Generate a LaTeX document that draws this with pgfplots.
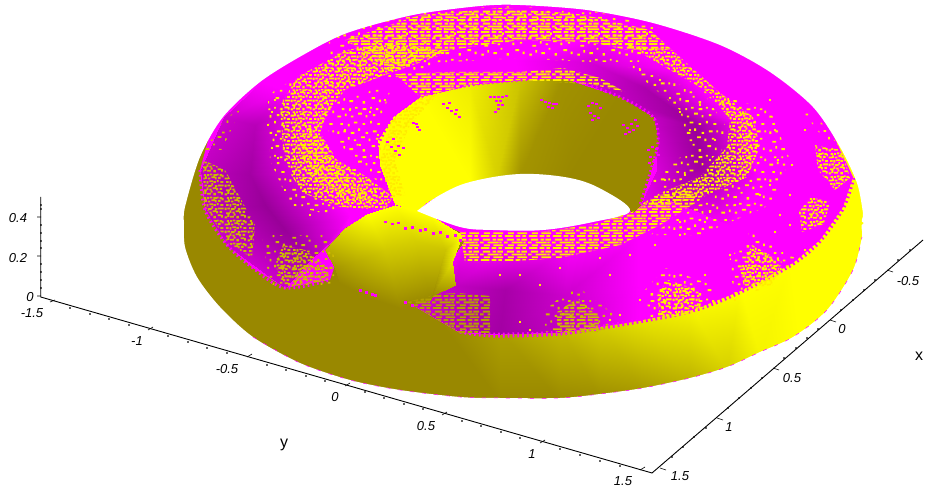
\documentclass[border=0pt]{standalone}
\usepackage{fontspec}
\setmainfont{Liberation Sans}
\usepackage{pgfplots}
\pgfplotsset{compat=1.18}
\usetikzlibrary{patterns}
\definecolor{olv}{RGB}{153,136,0}
\definecolor{ylw}{RGB}{255,235,0}
\definecolor{ylw2}{RGB}{205,185,0}
\definecolor{ylw3}{RGB}{180,160,0}
\definecolor{mag}{RGB}{255,0,255}
\def\rr#1#2#3#4#5{\pgfpathrectangle{\pgfpoint{#1*#2*1pt}{#1*#3*1pt}}{\pgfpoint{#4*1.25pt}{#5*1.25pt}}}
\def\speckrows#1{%
\rr{#1}{1}{1}{2}{1.5}\rr{#1}{5}{3}{1.5}{2}\rr{#1}{9}{2}{3}{1.5}\rr{#1}{14}{5}{1.5}{1.5}\rr{#1}{18}{1}{2}{2}\rr{#1}{24}{4}{3}{1.5}\rr{#1}{29}{2}{1.5}{2}%
\rr{#1}{3}{7}{3}{1.5}\rr{#1}{8}{9}{1.5}{2}\rr{#1}{12}{8}{2}{1.5}\rr{#1}{17}{10}{3}{1.5}\rr{#1}{22}{8}{1.5}{2}\rr{#1}{27}{9}{2}{1.5}%
\rr{#1}{1}{13}{1.5}{2}\rr{#1}{5}{14}{2}{1.5}\rr{#1}{10}{13}{3}{1.5}\rr{#1}{15}{15}{1.5}{2}\rr{#1}{20}{13}{2}{1.5}\rr{#1}{25}{14}{3}{1.5}\rr{#1}{30}{14}{1.5}{1.5}%
\rr{#1}{3}{19}{2}{1.5}\rr{#1}{8}{18}{1.5}{2}\rr{#1}{12}{20}{3}{1.5}\rr{#1}{18}{19}{2}{1.5}\rr{#1}{23}{20}{1.5}{2}\rr{#1}{28}{19}{2.5}{1.5}%
\rr{#1}{1}{24}{3}{1.5}\rr{#1}{6}{25}{1.5}{2}\rr{#1}{10}{24}{2}{1.5}\rr{#1}{15}{26}{3}{1.5}\rr{#1}{20}{24}{1.5}{2}\rr{#1}{25}{25}{2}{1.5}\rr{#1}{30}{27}{1.5}{2}%
\rr{#1}{4}{29}{2}{1.5}\rr{#1}{9}{29}{1.5}{1.5}\rr{#1}{13}{30}{2}{1.5}\rr{#1}{18}{29}{3}{1.5}\rr{#1}{23}{30}{1.5}{1.5}\rr{#1}{27}{29}{2}{1.5}%
\pgfusepath{fill}}
\pgfdeclarepatternformonly{speckA}{\pgfpointorigin}{\pgfqpoint{22.4pt}{22.4pt}}{\pgfqpoint{22.4pt}{22.4pt}}{\speckrows{0.7}}
\pgfdeclarepatternformonly{speckB}{\pgfpointorigin}{\pgfqpoint{25pt}{25pt}}{\pgfqpoint{25pt}{25pt}}{\speckrows{0.78125}}
\pgfdeclarepatternformonly{speckS}{\pgfpointorigin}{\pgfqpoint{48pt}{48pt}}{\pgfqpoint{48pt}{48pt}}{\speckrows{1.5}}
\pgfdeclarepatternformonly{streak}{\pgfpointorigin}{\pgfqpoint{24pt}{12pt}}{\pgfqpoint{24pt}{12pt}}{%
\rr{1}{1}{0}{7}{1.6}\rr{1}{12}{0}{4}{1.6}\rr{1}{19}{0}{3}{1.6}%
\rr{1}{4}{3}{5}{1.6}\rr{1}{14}{3}{8}{1.6}%
\rr{1}{0}{6}{3}{1.6}\rr{1}{8}{6}{9}{1.6}\rr{1}{20}{6}{2}{1.6}%
\rr{1}{3}{9}{6}{1.6}\rr{1}{13}{9}{3}{1.6}\rr{1}{18}{9}{4.5}{1.6}%
\pgfusepath{fill}}
\pgfplotsset{
 colormap={ym}{rgb255=(153,136,0) rgb255=(255,255,0)},
 colormap={mm}{rgb255=(153,0,153) rgb255=(255,0,255)},
 msh/.style={surf,shader=interp,mesh/ordering=y varies,point meta min=0,point meta max=1,point meta=explicit},
 pA/.style={draw=none,pattern=speckA,pattern color=#1},
 pB/.style={draw=none,pattern=speckB,pattern color=#1},
 pS/.style={draw=none,pattern=speckS,pattern color=#1},
 pL/.style={draw=none,pattern=streak,pattern color=#1},
 comb/.style={mag,line width=#1,dash pattern=on 1.7pt off 3.1pt,smooth},
 sq/.style={only marks,mark=square*,mark size=.9pt,color=#1,mark options={fill=#1,draw=#1,line width=0pt}},
}
\begin{document}
\begin{tikzpicture}
\useasboundingbox (0,0) rectangle (926pt,489pt);
\begin{axis}[hide axis,scale only axis,width=926pt,height=489pt,xmin=0,xmax=926,ymin=0,ymax=489,y dir=reverse,clip=false,unbounded coords=jump,at={(0,0)},anchor=south west]
% silhouette base
\addplot[fill=olv,draw=none] coordinates {(170,223)(170,290)(240,350)(340,390)(460,405)(560,405)(700,390)(800,345)(870,270)(872,160)(820,90)(720,35)(520,0)(350,20)(250,75)(200,140)} -- cycle;
% outer band shading
\addplot[colormap name=ym,msh,mesh/rows=2] table[meta=c]{
x y c
440 400 0
440 322 0
500 402 0
500 330 .2
560 402 0
560 328 .42
600 398 .05
600 322 .62
643 392 .15
640 315 .8
690 382 .35
690 305 .95
727 371 .6
740 287 1
760 356 .9
790 260 1
800 341 1
820 235 1
835 314 1
838 205 1
860 274 1
845 190 1
870 240 1
845 170 1
872 213 1
842 155 1
868 183 1
838 145 1
850 145 1
828 130 1
820 100 1
810 110 1
};
% magenta top
\addplot[fill=mag,draw=none] coordinates {(215,115)(255,75)(300,48)(347,25)(413,8)(480,0)(520,0)(587,3)(653,16)(720,38)(775,65)(818,102)(837,143)(853,177)(843,207)(820,240)(793,263)(743,290)(693,310)(627,323)(560,333)(493,335)(460,333)(407,302)(435,296)(455,285)(450,262)(465,245)(460,232)(417,212)(390,207)(367,217)(345,228)(325,250)(335,265)(330,280)(285,288)(253,268)(227,245)(205,210)(200,170)} -- cycle;
% magenta shading: left
\addplot[colormap name=mm,msh,mesh/rows=3] table[meta=c]{
x y c
262 82 1
285 90 1
310 100 1
224 117 .5
255 125 .3
305 130 1
201 170 .4
250 175 .1
320 170 1
206 211 .4
265 205 0
335 195 1
228 246 .5
285 230 0
350 215 1
285 288 .5
310 260 .2
345 228 1
};
% magenta shading: back right
\addplot[colormap name=mm,msh,mesh/rows=3] table[meta=c]{
x y c
500 30 1
515 60 1
520 80 1
600 35 1
590 62 .6
570 78 .7
680 70 1
645 88 .2
620 97 .4
745 125 1
695 125 0
655 117 .4
760 180 1
700 165 .05
657 170 .6
730 225 1
670 200 .5
640 207 .8
};
% magenta shading: front
\addplot[colormap name=mm,msh,mesh/rows=3] table[meta=c]{
x y c
450 262 1
435 296 .6
410 303 .6
465 240 1
455 285 .4
460 332 .3
510 245 1
505 290 .15
500 334 .1
570 245 1
565 295 .5
560 332 .4
640 235 1
640 285 1
640 320 1
};
% yellow blob
\addplot[colormap name=ym,msh,mesh/rows=3] table[meta=c]{
x y c
325 250 .3
335 268 .12
340 283 0
345 228 .7
355 262 .3
370 298 0
367 214 1
385 250 .55
400 308 0
395 205 1
415 240 .6
430 300 0
430 215 1
445 250 .5
432 296 0
462 235 1
452 262 .75
455 285 .3
};
% inner wall
\addplot[colormap name=ym,msh,mesh/rows=2] table[meta=c]{
x y c
395 204 1
417 212 1
380 165 1
425 203 1
378 140 1
435 197 1
393 117 1
450 190 1
420 97 1
470 182 1
470 85 .85
497 176 .6
520 80 .5
520 174 .1
563 78 .08
570 178 0
620 97 0
603 190 0
653 117 0
620 200 0
658 143 0
630 210 0
650 173 0
632 212 0
640 205 0
632 213 0
};
% combs along the colour boundaries
\addplot[comb=5pt] coordinates {(460,331)(493,335)(560,333)(627,323)(693,310)(743,290)(793,263)(820,240)(843,207)(853,177)};
\addplot[comb=3pt] coordinates {(378,145)(393,117)(420,97)(470,85)(520,80)(563,78)(620,97)(653,117)(658,143)(650,173)(640,205)};
\addplot[comb=3pt] coordinates {(200,170)(205,210)(227,245)(253,268)(285,288)(330,280)};
% hole
\addplot[fill=white,draw=none,smooth,tension=.6] coordinates {(417,211)(440,195)(470,182)(520,174)(570,178)(603,190)(630,211)(593,222)(543,230)(493,230)(460,227)(417,211)};
% dither zones
\addplot[pA=ylw] coordinates {(297,77)(280,107)(283,147)(290,173)(303,193)(340,207)(385,210)(393,197)(367,177)(337,160)(320,133)(327,113)(345,90)(393,72)(450,52)(395,42)(347,50)} -- cycle;
\addplot[pB=ylw] coordinates {(298,150)(312,178)(345,200)(375,200)(345,175)(322,145)(310,125)} -- cycle;
\addplot[pS=ylw] coordinates {(320,105)(392,85)(378,130)(392,195)(360,165)(330,135)} -- cycle;
\addplot[pS=ylw] coordinates {(268,95)(297,77)(280,107)(283,147)(290,173)(303,193)(340,207)(330,215)(290,205)(270,160)} -- cycle;
\addplot[pL=ylw] coordinates {(345,40)(420,15)(500,8)(580,14)(650,30)(672,50)(627,50)(590,42)(520,40)(450,50)(393,70)} -- cycle;
\addplot[pS=ylw] coordinates {(330,35)(420,12)(500,6)(590,10)(660,28)(640,62)(590,62)(520,58)(450,62)(393,78)(350,85)(320,105)} -- cycle;
\addplot[pL=ylw] coordinates {(395,74)(450,72)(520,72)(563,68)(600,78)(625,92)(590,84)(520,80)(470,85)(420,97)} -- cycle;
\addplot[pA=ylw] coordinates {(627,45)(672,50)(720,93)(753,117)(760,147)(747,177)(703,197)(653,207)(640,205)(660,193)(700,177)(727,147)(730,120)(710,93)} -- cycle;
\addplot[pS=ylw] coordinates {(700,90)(770,110)(790,160)(770,205)(700,235)(650,235)(715,195)(745,165)(745,125)} -- cycle;
\addplot[pS=ylw] coordinates {(620,60)(705,95)(725,125)(722,150)(695,172)(665,190)(650,180)(690,150)(680,110)} -- cycle;
\addplot[pL=ylw] coordinates {(460,232)(540,232)(595,224)(632,212)(660,195)(690,190)(700,200)(660,225)(620,245)(560,258)(500,262)(465,262)} -- cycle;
\addplot[pA=ylw] coordinates {(393,197)(380,160)(392,120)(420,98)(440,92)(410,125)(395,160)(405,195)} -- cycle;
% clusters on magenta
\addplot[pS=ylw2] coordinates {(205,150)(225,118)(240,110)(222,150)} -- cycle;
\addplot[pA=ylw2] coordinates {(203,160)(225,170)(255,225)(252,258)(228,243)(204,205)} -- cycle;
\addplot[pA=ylw2] coordinates {(283,245)(305,250)(328,268)(328,280)(285,288)(275,265)} -- cycle;
\addplot[pS=ylw2] coordinates {(262,235)(325,235)(340,270)(330,285)(270,285)} -- cycle;
\addplot[pL=ylw3] coordinates {(407,302)(440,294)(458,293)(490,296)(490,335)(460,333)} -- cycle;
\addplot[pL=ylw2] coordinates {(578,298)(600,318)(600,332)(557,332)(557,312)} -- cycle;
\addplot[pS=ylw2] coordinates {(575,285)(615,315)(610,330)(545,332)(545,310)} -- cycle;
\addplot[pA=ylw] coordinates {(668,280)(698,290)(702,312)(660,318)(657,295)} -- cycle;
\addplot[pS=ylw] coordinates {(665,268)(712,285)(715,305)(650,320)(645,290)} -- cycle;
\addplot[pA=ylw] coordinates {(752,245)(782,262)(772,285)(745,290)(740,270)} -- cycle;
\addplot[pS=ylw] coordinates {(750,232)(795,258)(770,288)(735,295)(728,262)} -- cycle;
\addplot[pA=ylw] coordinates {(810,197)(830,202)(824,224)(802,232)(799,212)} -- cycle;
\addplot[pA=ylw] coordinates {(815,145)(842,150)(850,178)(835,190)(818,170)} -- cycle;
\addplot[pS=ylw] coordinates {(800,108)(818,118)(838,145)(825,140)} -- cycle;
% magenta specks on the wall and the blob
\addplot[only marks,mark=square*,mark size=.7pt,mag,mark options={draw=mag,fill=mag}] coordinates {
(387,142)(391,147)(395,151)(399,155)(403,148)(393,139)(398,146)(413,123)(417,127)(419,130)(416,124)
(443,104)(447,108)(451,111)(455,114)(459,117)(449,103)(456,110)
(490,97)(494,97)(498,97)(502,97)(506,96)(496,101)(500,101)(498,105)(498,109)(502,105)(495,112)
(541,100)(545,102)(549,103)(553,104)(548,107)(552,108)(556,104)
(588,106)(592,103)(596,104)(600,108)(590,113)(594,116)(598,118)(592,120)
(623,125)(627,128)(631,124)(635,120)(629,132)(633,130)(637,126)(625,134)
(648,150)(652,147)(656,149)(650,157)(654,160)(658,155)(649,163)
(385,222)(392,224)(398,223)(405,228)(412,227)(420,230)(425,229)(433,233)(440,232)(447,236)(455,235)(460,240)
(360,290)(366,292)(372,294)(375,295)
(412,305)(405,302)
};
% irregular yellow specks
\addplot[sq=ylw] coordinates {
(275,100)(272,112)(268,125)(276,135)(272,148)(278,158)(285,190)(295,205)(310,215)
(350,110)(345,130)(360,145)(378,135)(370,112)(385,100)(355,170)(375,190)
(640,70)(660,80)(670,98)(680,112)(690,130)(700,105)(715,140)(710,160)(685,175)(665,180)
(770,100)(775,130)(778,160)(770,185)(760,195)(735,205)(710,212)(680,222)
(805,130)(792,165)(790,195)(780,215)(805,250)(775,232)
(520,275)(560,268)(600,258)(630,255)(655,245)(680,235)(705,222)(540,285)(500,275)
(610,275)(640,300)(705,275)(730,255)(790,225)(735,300)(520,322)(530,330)(610,320)(620,315)
};
% white masks round the smooth silhouette
\addplot[fill=white,draw=none,smooth,tension=.5] coordinates {(184,223)(185,207)(200,157)(223,117)(260,82)(303,55)(347,33)(413,15)(480,6)(520,5)(587,10)(653,23)(720,45)(770,72)(813,107)(840,147)(857,183)(863,213)(864,223)(900,223)(900,0)(130,0)(130,223)(184,223)};
\addplot[fill=white,draw=none,smooth,tension=.5] coordinates {(184,223)(185,247)(197,277)(220,307)(253,337)(300,363)(350,380)(400,390)(460,397)(500,398)(560,398)(600,394)(643,388)(690,378)(727,367)(760,352)(793,337)(827,310)(853,270)(862,237)(864,223)(900,223)(900,430)(130,430)(130,223)(184,223)};
% silhouette edge
\addplot[mag,line width=.5pt,smooth,dash pattern=on 4pt off 8pt] coordinates {(253,337)(300,363)(350,380)(400,390)(460,397)(500,398)(560,398)(600,394)(643,388)(690,378)(727,367)(760,352)(793,337)(827,310)(853,270)(862,237)};
% axes
\addplot[black,line width=.9pt] coordinates {(40.7,197)(40.7,297)(652,473)(923,240)};
\addplot[black,line width=.6pt] coordinates {(50,302)(55,300)(nan,nan)(148,330)(153,327)(nan,nan)(247,357)(252,354)(nan,nan)(345,386)(350,383)(nan,nan)(442,415)(447,412)(nan,nan)(540,443)(545,440)(nan,nan)(640,470)(645,467)(nan,nan)(660,468)(666,470)(nan,nan)(717,418)(723,420)(nan,nan)(773,368)(779,370)(nan,nan)(830,320)(836,322)(nan,nan)(887,270)(893,272)(nan,nan)(37,217)(41,217)(nan,nan)(37,256)(41,256)(nan,nan)(37,296)(41,296)};
\addplot[only marks,mark=*,mark size=.7pt,black] coordinates {
(70,308)(90,314)(109,319)(129,325)(168,336)(188,342)(207,348)(227,353)(267,365)(286,370)(306,376)(325,381)(365,392)(384,398)(404,404)(423,409)(462,421)(481,426)(501,432)(520,438)(560,449)(580,455)(600,461)(620,466)
(672,457)(683,447)(694,437)(706,428)(728,408)(739,398)(751,388)(762,378)(784,358)(796,348)(807,338)(818,329)(841,310)(853,300)(864,290)(875,280)(898,260)(910,250)
(41,205)(41,209)(41,225)(41,233)(41,241)(41,248)(41,264)(41,272)(41,280)(41,288)};
\node[font=\itshape\fontsize{13}{13}\selectfont] at (axis cs:18,218) {0.4};
\node[font=\itshape\fontsize{13}{13}\selectfont] at (axis cs:18,258) {0.2};
\node[font=\itshape\fontsize{13}{13}\selectfont] at (axis cs:30,297) {0};
\node[font=\itshape\fontsize{13}{13}\selectfont] at (axis cs:32,313) {-1.5};
\node[font=\itshape\fontsize{13}{13}\selectfont] at (axis cs:137,341) {-1};
\node[font=\itshape\fontsize{13}{13}\selectfont] at (axis cs:227,369) {-0.5};
\node[font=\itshape\fontsize{13}{13}\selectfont] at (axis cs:335,397) {0};
\node[font=\itshape\fontsize{13}{13}\selectfont] at (axis cs:426,426) {0.5};
\node[font=\itshape\fontsize{13}{13}\selectfont] at (axis cs:532,454) {1};
\node[font=\itshape\fontsize{13}{13}\selectfont] at (axis cs:623,481) {1.5};
\node[font=\itshape\fontsize{13}{13}\selectfont] at (axis cs:680,476) {1.5};
\node[font=\itshape\fontsize{13}{13}\selectfont] at (axis cs:729,427) {1};
\node[font=\itshape\fontsize{13}{13}\selectfont] at (axis cs:792,378) {0.5};
\node[font=\itshape\fontsize{13}{13}\selectfont] at (axis cs:842,329) {0};
\node[font=\itshape\fontsize{13}{13}\selectfont] at (axis cs:908,281) {-0.5};
\node[font=\fontsize{16}{16}\selectfont] at (axis cs:919,356) {x};
\node[font=\fontsize{16}{16}\selectfont] at (axis cs:284,445) {y};
\end{axis}
\end{tikzpicture}
\end{document}
